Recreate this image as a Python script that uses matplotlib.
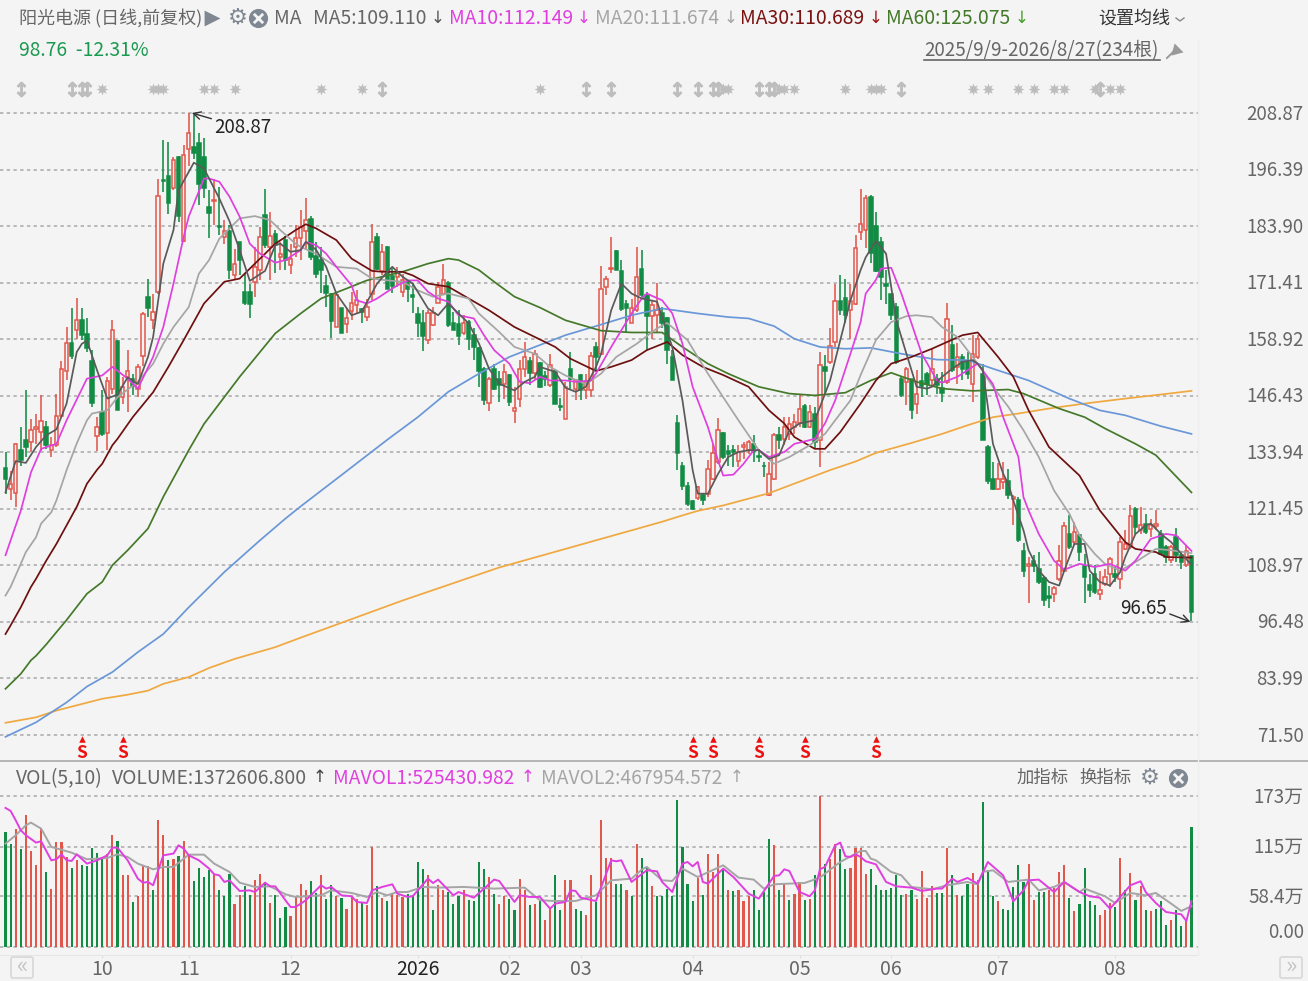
import matplotlib
matplotlib.use('Agg')
import matplotlib.pyplot as plt
from matplotlib.patches import FancyBboxPatch
from matplotlib.transforms import ScaledTranslation

plt.rcParams['font.family'] = ['Noto Sans CJK SC', 'DejaVu Sans']

# 日K数据
opens = [130.5,125.9,124.9,134.4,136.6,136.2,139.1,138.4,139.5,134.5,135.5,142,152,158.1,160.9,163.1,160,154.1,137.5,142.8,
138.2,148,158.5,146.1,150.6,150.2,148,155.1,168.2,163.2,169.4,194,194.9,192.2,199.2,180.6,201,201.3,202.2,199.2,
188,189.4,183.9,181.5,182.8,173,180.3,169.4,169.4,171.6,174.3,186.3,179.2,182.1,177.1,180.9,175.3,179.3,181.2,182.9,
185.4,177.3,176.4,170.6,169,161.6,165.8,162.2,165.1,166.4,165.5,163.8,169,181.5,174,179.3,172.8,172.7,169.4,171.4,
168.6,164.4,162.4,158.8,162,166.9,168.9,171.4,162.4,162.2,160.2,162.7,159.8,157,152.4,144.8,152.4,150.2,149,150.9,
143.1,145.8,152.4,154.1,151.5,153.7,150.7,148.7,152,144.2,141.4,152.4,148,150.9,147.8,147.8,157.2,155.7,170.5,174.4,
178.4,174,166.6,162.5,165.3,174.4,168.6,164,164.2,164.6,163.7,155,140.3,131,126.6,123.1,123.8,124.4,124.8,128.1,
131.8,138.3,134.2,134.4,132,135.2,134.5,135.8,133.2,131,124.4,128.1,137.8,136.9,137.9,139.5,140.4,144.2,139.5,142.5,
136.6,152.8,153.9,158.3,167.4,168.1,165.3,166.6,182.5,183,190.4,183.9,180.4,171.1,168.9,166,150.1,149.5,150.1,144.6,
149.6,151.3,149.8,150.2,148.2,149.5,157.6,152.8,155,154,149.1,155,151.3,135.2,128.1,125.9,127.4,127.7,123.6,123.3,
112.1,108.9,110,108.2,106.2,102.1,102.7,106,107.8,115.9,114.1,115.6,108.9,104.7,107.1,102.7,104.9,107.1,107.1,106,
112.6,113,121.5,116.7,118.1,117,117.7,115.9,113,110.1,115.2,111.2,109,111]
highs = [134,129.9,135.9,139.5,147.8,141.4,142.5,146.5,140.8,137.3,146.9,154.2,161.5,165.8,168.1,165.8,163.5,156.5,141.7,147.6,
150.6,163.1,158.8,150.6,156.5,151.3,153.5,164.9,172.1,169,194.2,202.9,202.5,199.2,199.4,201.8,208.87,208.5,204.4,203.3,
191.8,194.4,192.6,185.2,184.1,178.9,180.4,173.4,171.2,179.3,183.7,192,187,183,180.4,181.7,180,184.1,187.4,190,
186.1,180.4,179.3,173,169.2,169,165.9,165.7,169.4,169.7,165.9,167.9,184.3,182.3,180,179.5,174.9,174.9,173.4,172,
171.4,166,165.3,165.3,166,171.6,175.6,171.7,165,165.3,164.2,163.1,161.3,157.2,152.8,150.6,153.5,152,153.5,151.3,
148.4,154.4,158.4,155,156.6,153.9,152,155.6,152.4,146,149.5,156.1,150.2,151.2,151.3,156.1,158.3,175,172.8,181.4,
178.6,176.4,167.5,167.9,179.3,178.6,169.4,167.5,171.4,166,163.9,156.5,142.1,131.8,127.4,123.5,126.6,124.9,132.2,135.8,
141.6,138.4,135.5,135.5,135.6,136.2,136.6,137.8,134.7,131.8,131.8,138.1,139.5,141.7,141.7,142.5,146.5,144.5,144.3,143.9,
156.1,155.4,161.4,171.2,173.1,172.1,171.2,181.9,192,190.7,190.7,187,181.5,174.2,169,166.8,150.6,152.8,150.2,152.1,
155.7,151.7,156.8,151.3,151.7,167,162,158,155.7,156,159.8,159.8,153.5,135.5,131.8,131.6,131.8,130.3,124.4,124,
113.9,110.8,111.2,111.9,106.7,104.5,104.5,113.4,118.5,120,118.5,115.9,111.5,107.1,109,107.8,108.2,110.9,108.6,115.2,
116.7,122.2,121.8,121.8,120.4,119.3,121.2,116.7,113.4,113.4,117.3,112.2,113.4,111.2]
lows = [124.8,123.4,121.8,130.8,132.9,134,135.8,134.3,134.7,132.9,135.1,141.7,150,154.6,159,158.7,156,143.9,134.3,137.5,
134.5,146.9,143.2,144.7,142.8,146.5,146.1,153.1,163.8,161.2,169,191.5,186.5,191.8,184.8,180.4,197.1,198.8,188.5,190,
181.2,184.1,181.9,180,172.3,171.9,173,166.4,163.7,168.2,172,179,172,173.5,174.1,174.3,173.3,177.1,176.4,178.6,
176.4,172.5,169.2,166,159.2,161.6,160.2,160.2,163.1,164.7,162.6,162.9,167.5,174.2,173,170.1,169.2,170.5,168.3,167.2,
164.6,159.3,156.3,157.9,161.8,166.8,168.6,161.6,160.9,157.6,159.8,156.5,154.4,148.4,144.3,143,147.6,145,145.8,144.1,
140.4,144,150.6,148.7,149.8,148.2,148.5,148.4,144.5,143,141.2,147.8,145.4,145.4,145.8,146.1,152,155.4,168.6,173.6,
174.2,165.2,160.5,162.5,164.9,168.3,156.5,159,160.5,161.3,153.5,149.8,130.1,125.5,122,121.1,123.3,122.2,124,127.9,
131.4,132.5,131,130.7,130.7,132.5,133.6,131.8,131.8,128.5,124.2,127.9,134.7,135.5,136.6,138,139.5,139.4,139.4,134.7,
130.7,146.9,153.5,157.2,164.2,162.4,159,166.4,180.8,179,175.8,173.8,167.5,166.6,163.1,153.5,146.2,144.3,141.2,142.5,
146.2,146.5,148.7,146.9,145,149.1,151.7,149.1,149.8,150.2,145,154.6,136.6,127,125.5,125.7,125.9,123.7,117.8,114.1,
106.5,100.6,107.5,104.9,99.9,99.5,100.8,105.6,107.5,112.6,113.4,110,100.6,102,102.7,101.3,104.5,104.2,105.3,103.8,
112.3,112.6,115.9,116,115.9,115.2,116.8,111.2,109.4,109.4,109.7,108.2,108.6,96.65]
closes = [128.1,127,135.8,132.3,135.1,138.8,139.5,140.8,135.5,135.5,141.9,152.4,158.1,155.1,163.1,159.8,157,144.8,139.5,138,
149.7,161,143.3,148.3,152,148.5,152.8,164.4,165.9,164.9,190.5,193.8,188.9,198.6,186.1,199.6,204.5,200.1,193.2,192.2,
186.8,189.6,183.8,182.8,174.3,175.6,176.5,167,166.6,174.9,181.5,179.7,181.7,179.7,177.8,176.4,176.7,181.2,183.7,185.2,
177.1,173.3,174.2,169.2,162.9,168.6,160.3,163.5,166.8,167.5,164.9,166,180.3,174.5,178.2,170.1,170.6,173.8,172,169.9,
168.3,162.5,159.6,164.6,164.6,170.5,171.9,162,161,159.6,162.5,159,157.2,152,145.4,150.2,148,148.9,151.7,145,
143.8,152.4,154.9,151.5,155.7,148.4,150.2,153.2,144.7,143.9,148.4,150.2,149.8,147.6,149.5,155.2,155,170.1,172.3,174.5,
174.3,165.5,165.7,165.7,172.7,168.6,164,166.4,165.3,162.5,156.5,150,133.8,126.6,122.6,121.5,126.3,123.3,130.3,133.8,
138.8,132.9,133.5,134,134,135.6,136.2,134.2,132.9,130.8,129.2,137.7,136.7,139.5,140.1,140.6,143.4,139.5,142.8,136.2,
153.2,152,157.4,167.4,165.3,164.2,167.4,179,184.3,190.2,178,174,172.7,170.6,164.2,153.9,146.7,152.4,143.2,146.9,
148.5,149.1,152.4,148.7,147,163.3,152.1,155,152.4,151.3,155.7,159,136.7,127.7,125.9,128.1,128.1,124.4,124,114.5,
107.8,109.3,108.9,105.3,101.4,101.8,104,110,117.6,113,116.3,111.9,106.4,103.6,103,103.6,106.4,110.4,106.4,114.1,
113.7,119.8,117.4,117.8,116.3,117.9,118.1,111.5,110.8,113,111.2,109.7,112.2,98.76]

# 均线, 按K线序号读的点
ma5_i = [0,2,4,6,8,10,12,14,15,16,18,20,22,24,26,28,29,31,33,34,37,39,42,44,46,48,51,53,54,56,58,59,61,63,65,68,70,73,75,76,78,80,83,85,87,89,91,93,95,97,100,102,104,105,108,110,112,114,116,117,119,121,123,125,128,129,131,133,135,136,138,140,142,144,146,148,150,152,154,156,159,160,162,164,166,168,169,171,173,174,175,177,179,181,182,184,186,188,190,191,192,193,194,196,197,198,200,201,203,205,207,208,210,212,213,215,217,219,220,222,224,225,227,229,231,233]
ma5_v = [125.1,132,131.6,135.1,137.7,139,144.7,156.1,157.9,158.6,152,145.8,146.7,150.5,149,155,159.4,175.6,183,191.8,197.9,196.6,190,185,178.6,171.8,174,179.7,180,178.2,178.6,180.4,178.7,174.9,169,164.2,165,171.2,173.8,174.9,172.7,171.2,165.7,164.2,166.8,164.6,162.4,158,152.4,149.1,147.6,149.5,150.6,152.8,151.7,148.2,147.3,148.4,152.8,155.7,165.3,171.2,169,167.9,167.2,163.8,157.2,145.4,130,124.8,124.8,129.2,132.9,134,134.4,134.4,132.5,133.3,138.8,140.3,141,143.9,149.8,158.7,167.5,174.2,177,180.6,177.8,170.5,163.1,155.7,148.4,148,148.4,150.6,152.4,153.9,154.3,153.5,152.1,144,135.8,129.2,127,123.3,116.7,112.3,107.8,105.3,104.5,107.8,113.7,113.7,107.8,105.3,104.5,107.5,110.8,115.9,117.8,118.2,115.9,114.1,111.5,109.11]
ma10_i = [0,3,5,7,10,12,16,19,21,24,26,29,31,33,35,36,39,40,42,44,46,48,50,53,55,58,59,61,63,65,68,69,71,73,75,77,79,81,83,85,87,89,92,94,96,99,101,103,105,107,110,112,115,116,119,121,123,125,126,129,131,133,135,138,140,141,143,145,147,148,150,153,155,159,161,163,166,168,169,171,172,174,176,178,180,183,184,187,190,191,194,196,199,200,201,203,206,208,211,214,217,220,222,225,228,230,233]
ma10_v = [111.2,121,129.5,134.7,135.8,141,150.2,150.9,152.8,150.2,148,155,161.6,171.2,181.5,186,194.4,194.4,193.7,190.4,186,180,177.8,175.8,176.4,178.6,180.4,179.7,177.8,174.9,170.8,167.5,166.8,167.9,169.4,170.8,171.9,171.9,169.4,167.9,167.2,164.2,163.5,159.8,156.5,153.5,149.5,149.2,150.6,149.8,149.8,149.5,149.8,151.3,157.2,160.9,164.6,167.9,169,167.5,164.6,157.9,148.4,139.5,132.1,128.8,129,131.4,134.4,134.4,132.9,134,135.8,136.9,140.3,145.4,155.7,162.7,169,172,174.5,174.7,169,162.4,155.7,149.8,149.3,150.6,152.8,153.5,149,141.7,132.9,124,121.1,115.9,110,108,109.3,108.6,109.3,107.8,110,114.8,115.9,115.6,112.15]
ma20_i = [0,1,3,4,6,7,9,10,12,14,16,17,20,22,26,29,31,33,36,38,40,42,46,49,52,54,57,58,61,65,69,72,75,78,81,84,87,91,93,97,100,104,107,110,114,117,120,124,128,130,134,138,141,144,148,151,154,158,161,163,166,168,171,174,177,179,182,184,187,190,191,194,197,200,203,206,209,211,214,216,219,222,226,229,233]
ma20_v = [102.3,104.2,109.3,111.9,115.2,118.2,120.7,123.3,130,135.9,141,142.5,143.2,146.1,149.5,153.5,157.9,161.6,166,173.4,176.4,181.1,185.6,186.1,185.2,183,180,179.3,177.8,174.9,174.5,172.3,171.9,171.6,169.7,168.3,169,167.9,164.6,160.5,157.2,155.7,152.8,150.9,149,151.3,155,157.9,161.3,162.5,158.7,151.3,146.1,141,134.4,131.4,132.9,135.5,138,141,145.4,151,158.7,162.7,164,164.2,163.8,161.6,159.4,155,153.5,148.4,144,138.8,132.9,125.5,120.4,115.6,111.5,109.3,107.8,109.7,112.6,112.3,111.67]
ma30_i = [0,1,3,5,6,8,10,12,14,16,18,19,21,22,25,29,32,35,39,43,46,49,53,57,59,61,65,68,72,74,78,80,83,87,91,95,100,104,108,111,116,119,123,126,130,133,137,141,146,150,153,155,159,161,164,168,171,174,178,182,185,188,191,195,198,201,205,211,215,220,222,226,228,233]
ma30_v = [93.8,95.7,99.7,104.2,106,110,113.7,117.8,121.9,127,130.1,131.4,135.5,136.9,141.7,147.2,152.8,158.7,166.8,171.6,172.3,175.6,180,183,184.3,183.4,180.8,176.7,174,173.8,173.8,173,171.2,170.5,167.9,165.3,161.6,159.4,157.2,154.6,151.9,152.8,154.3,156.5,158.3,155.4,152.8,151,148.4,143.2,140.3,137.3,134.7,134.7,138.4,144.7,149.8,153.5,155,156.8,158.3,159.8,160.4,155,150.6,143.2,135.1,128.8,121.1,114.1,112.6,111.9,110.8,110.69]
ma60_i = [0,3,5,6,8,12,16,19,21,24,28,31,36,39,46,53,58,62,67,71,78,83,87,89,93,96,100,105,110,117,123,129,133,138,142,148,154,159,165,170,174,179,184,190,197,200,207,212,216,222,226,233]
ma60_v = [81.7,85,88,89,91.5,96.9,102.7,105.3,109,112.3,117.1,124.1,134.4,140.2,150.6,160.2,164.6,167.9,170.1,171.9,173.8,175.6,176.7,176.4,174.2,171.6,168.3,165.9,163.1,160.8,160.4,160.4,157.2,153.5,151.3,148.4,146.9,146.5,147.1,149.8,151.5,149.5,148,147.5,147.8,146.9,143.6,141.7,139.2,135.8,133.3,125.08]
ma120_i = [0,6,12,16,21,26,31,36,43,50,55,58,66,75,81,87,93,99,104,110,116,123,129,136,142,146,151,155,160,165,170,176,183,189,194,201,209,215,220,227,233]
ma120_v = [71.1,74.3,78.7,82.2,85.4,89.8,93.8,99.7,107.5,114.5,119.3,122,128.9,136.7,141.7,147.3,151.3,155,157.2,159.8,161.8,164.2,165.7,164.6,163.8,163.5,161.8,159,157.2,156.8,157,155.7,154.4,154.3,152.4,149.8,145.8,143.2,142.1,139.7,138]
ma250_i = [0,6,10,19,24,28,31,36,40,45,53,58,78,97,123,129,133,136,141,150,158,162,167,171,178,184,189,194,199,205,212,220,227,233]
ma250_v = [74.2,75.4,76.9,79.5,80.4,81.3,82.8,84.3,86.3,88.3,90.9,93,101.2,108.5,116.7,118.6,120,121,122.2,124.9,128.3,130,131.9,133.8,136,138,139.9,141.7,142.5,143.6,144.7,145.8,146.7,147.5]

# 成交量(万手)
volume = [131.8,118.4,134.8,112.7,150.9,110,93.6,136.4,86,66.1,120.3,120.3,103.1,90.5,99.3,93.6,92.8,113.5,107.7,101.2,
106.2,128,121.5,82.1,82.1,51.2,58.1,93.6,92.8,64.9,145.2,128,99.3,100.5,103.9,121.1,105.8,75.3,90.5,80.2,
87.9,84,64.9,58.1,83.3,48.9,59.2,69.5,59.2,76.4,83.3,74.5,50.8,59.2,33.6,45.8,35.1,58.1,71.8,64.9,
75.3,61.9,82.1,55.4,71.4,58.1,56.2,43.9,58.1,55.4,51.6,47.8,114.6,69.5,56.5,52.3,62.3,60,57.3,61.1,
59.2,97.4,89,82.1,42,71.4,64.9,63,48.9,58.1,65.7,54.2,52.3,97.4,89,80.2,61.1,48.9,58.1,55.4,
42,78.3,64.9,47.8,48.9,52.3,30.6,43.9,82.1,42,76.4,76.4,43.9,40.9,37.1,82.1,51.6,145.2,102.4,102.4,
72.6,72.6,64.9,58.1,117.7,102.4,90.5,69.5,58.1,58.1,66.9,58.1,168.1,114.6,71.8,52.3,79.5,59.2,106.2,86,
106.2,89.8,64.9,64.2,65.7,52.3,58.1,64.9,42,63,124.2,116.5,64.9,71.8,54.2,61.1,74.5,54.2,55.4,82.1,
172.7,95.5,101.2,117.7,112.7,89,90.5,113.8,113.8,83.3,89,71.4,64.9,64.9,68,82.1,59.2,61.1,64.9,54.6,
86.7,56.2,69.5,61.9,61.9,113.8,82.1,59.2,58.1,71.8,85.2,76.4,166.2,88.6,58.1,52.3,43.9,42,68.8,93.6,
74.5,95.5,54.2,63,63,65.7,67.6,86,93.6,56.2,40.9,48.9,90.5,52.3,47.8,37.1,42,50.4,45.8,102.4,
64.9,85.2,54.2,69.5,42,40.9,43.9,52.3,24.8,30.6,42,23.7,30.6,137.26]
vol_dir = ('GGRGRRRRGRRRRGRGGGGG' 'RRGRRGRRRGRRGRGRRGGG' 'GRGGGRRGGRRGRGGGRRRR' 'GGRGGRGRRRGRRGRGRRRG'
           'GGGRGRRGGGRGGGGRGRRG' 'GRRGRGRRGGRRGGRRGRRR' 'GGRGRGGRGGGGGGGGRGRR' 'RGRGRRRGGGGRGRGRRGRG'
           'RGRRGGRRRRGGGGGGGRGR' 'RRRGGRGRGGRRGGGRGGGG' 'GRRGGRRRRGRGGGGRRRGR' 'GRGRGRGGGRGGRG')
mavol1_i = [0,1,2,3,4,6,7,9,10,11,12,13,14,16,18,20,21,22,24,26,27,28,29,31,33,34,35,36,38,40,41,42,43,44,46,48,49,51,52,53,55,56,57,59,62,63,64,66,68,69,71,72,74,76,77,79,80,83,84,85,88,89,92,94,96,97,100,101,103,105,107,108,110,111,112,113,116,119,120,121,123,126,128,129,131,133,134,135,136,137,138,141,143,146,148,151,152,153,154,156,158,159,160,161,163,164,165,166,167,168,169,171,173,175,178,180,183,184,186,187,189,191,193,196,198,200,201,203,206,208,211,213,215,217,219,221,223,224,226,228,231,232,233]
mavol1_v = [159.3,155.9,145.2,133.7,128,119.6,121.1,99.3,100.5,106.2,99.3,98.6,106.2,95.5,99.3,105,113.8,113.8,99.3,78.3,73.7,74.5,70.7,105,107,116.5,112.7,105,99.3,89.8,83.3,82.1,74.5,76.4,64.2,64.9,63,73.7,69.5,69.5,53.5,45.8,45.8,53.5,70.7,66.9,68.8,59.2,58.1,51.6,50.4,64.9,68.8,71.8,61.1,57.3,58.1,78.3,73.3,77.2,59.2,63,56.5,66.9,77.2,75.6,51.6,59.2,57.3,57.3,43.9,49.7,51.6,64.9,64.2,56.5,52.7,99.3,98.2,99.3,74.5,87.9,86.7,74.5,63,95.5,97.4,92.4,97.4,74.5,72.6,89.8,80.2,61.1,55.4,81.4,82.1,89,87.1,63,58.1,64.9,89,91.7,116.5,119.6,103.9,103.1,106.2,103.1,98.2,94.7,74.5,69.5,68,64.2,66.9,66.9,78.3,74.5,79.1,72.6,97.4,82.1,52.3,64.9,76.4,77.2,63,74.5,63,58.1,56.5,43.9,57.3,70.7,75.3,63,50.4,40.1,37.4,29.8,52.54]
mavol2_i = [0,2,4,5,7,9,13,16,20,22,24,26,29,31,33,36,39,41,44,46,49,52,55,57,62,64,68,71,73,75,77,79,82,85,90,96,102,105,108,112,116,119,123,125,126,129,131,133,136,141,144,147,149,151,154,157,160,164,168,169,170,171,174,176,178,182,185,189,191,192,194,197,201,203,206,208,211,212,216,218,221,224,226,229,231,233]
mavol2_v = [118.4,128,139.4,142.5,135.6,114.6,108.1,100.5,102,106.2,103.1,95.5,89,91.7,91.7,105.8,105.8,95.5,86,73.7,68.8,69.5,60.4,57.3,59.2,64.9,61.9,57.3,63,59.2,63,63,68.8,68,68.8,66.9,68,53.5,52.7,52.7,59.2,76.4,78.3,88.6,91.7,76.4,75.6,89.8,80.2,93.6,79.5,77.2,66.9,71.8,72.6,73.3,79.5,97.4,110,110,101.2,99.3,86,82.1,68.8,66.1,70.7,74.5,71.8,86,87.9,74.5,77.2,64.9,68.8,74.5,63,66.9,58.1,50.4,61.9,59.2,61.9,49.7,41.3,46.8]

price_ticks = [208.87,196.39,183.90,171.41,158.92,146.43,133.94,121.45,108.97,96.48,83.99,71.50]
vol_ticks = [173,115,58.4,0]
vol_tick_labels = ['173万','115万','58.4万','']
month_i = [19,36,56,81,99,113,135,156,174,195,218]
month_labels = ['10','11','12','2026','02','03','04','05','06','07','08']
arrow_events = [3,13,15,16,74,114,119,132,136,139,140,148,150,151,176,215]
star_events = [19,29,30,31,39,41,45,62,70,105,141,142,152,153,155,165,170,171,172,190,193,199,202,206,208,214,217,219]
sell_events = [15,23,135,139,148,157,171]

W, H = 1308, 981
BG = '#f4f4f4'
RED = '#e2574c'
GREEN = '#128c44'
GRID = '#a8a8a8'
TXT = '#666666'

fig = plt.figure(figsize=(W/100, H/100), dpi=100, facecolor=BG)

def px_axes(x0, y0, x1, y1):
    return fig.add_axes([x0/W, 1-y1/H, (x1-x0)/W, (y1-y0)/H], facecolor='none')

ax = px_axes(0, 60, 1198, 760)
av = px_axes(0, 762, 1198, 955)
xlim = (-5.5/5.09, (1198-5.5)/5.09)
lift = ScaledTranslation(0, 1.5/100, fig.dpi_scale_trans)

# K线
idx = list(range(len(closes)))
up = [c >= o for o, c in zip(opens, closes)]
wick_col = [RED if u else GREEN for u in up]
ax.vlines(idx, lows, highs, colors=wick_col, lw=1.15, zorder=2)
bottoms = [min(o, c) for o, c in zip(opens, closes)]
heights = [max(abs(c-o), 0.15) for o, c in zip(opens, closes)]
ax.bar(idx, heights, bottom=bottoms, width=0.68, color=[BG if u else GREEN for u in up],
       edgecolor=wick_col, linewidth=1.1, zorder=3)

for xs, ys, col in [(ma250_i, ma250_v, '#f0a840'), (ma120_i, ma120_v, '#6a97d8'), (ma60_i, ma60_v, '#45792a'),
                    (ma30_i, ma30_v, '#6e1010'), (ma20_i, ma20_v, '#a5a5a5'), (ma10_i, ma10_v, '#e03fe0'),
                    (ma5_i, ma5_v, '#5a5a5a')]:
    ax.plot(xs, ys, color=col, lw=1.25, zorder=4)

ax.set_xlim(*xlim)
ax.set_ylim(208.87-(760-113)*0.22085, 208.87+(113-60)*0.22085)
ax.set_yticks(price_ticks)
ax.set_yticklabels(['%.2f' % p for p in price_ticks])
ax.yaxis.tick_right()
ax.tick_params(axis='y', length=0, pad=76, labelsize=13.5, labelcolor=TXT)
for lab in ax.get_yticklabels():
    lab.set_ha('right')
    lab.set_transform(lab.get_transform() + lift)
ax.set_xticks([])
ax.grid(axis='y', color=GRID, lw=1.1, ls=(0, (2.2, 2.2)), zorder=1)
ax.set_axisbelow(True)
for s in ax.spines.values():
    s.set_visible(False)

# 事件标记和卖点
ax.scatter(star_events, [214.2]*len(star_events), marker=(8, 1, 0), s=75, color='#bdbdbd', lw=0, zorder=5, clip_on=False)
ax.scatter(arrow_events, [214.2]*len(arrow_events), marker='$\\updownarrow$', s=110, color='#bdbdbd', lw=0.8, zorder=5, clip_on=False)
ax.scatter(sell_events, [70.7]*len(sell_events), marker='^', s=22, color='#ee1111', lw=0, zorder=5)
for e in sell_events:
    ax.text(e, 67.5, 'S', color='#ee1111', fontsize=12.5, fontweight='bold', ha='center', va='center', zorder=5)

# 最高最低价
ax.annotate('208.87', xy=(36.6, 208.87), xytext=(41, 205.6), fontsize=13.5, color='#222222', va='center',
            arrowprops=dict(arrowstyle='->', color='#333333', lw=1, shrinkA=0, shrinkB=0))
ax.annotate('96.65', xy=(232.8, 96.48), xytext=(219, 99.4), fontsize=13.5, color='#222222', va='center',
            arrowprops=dict(arrowstyle='->', color='#333333', lw=1, shrinkA=0, shrinkB=0, relpos=(1, 0.3)))

# 成交量
vol_col = [RED if d == 'R' else GREEN for d in vol_dir]
av.bar(idx, volume, width=0.42, color=vol_col, lw=0, zorder=3)
av.plot(mavol2_i, mavol2_v, color='#a5a5a5', lw=1.4, zorder=4)
av.plot(mavol1_i, mavol1_v, color='#e03fe0', lw=1.4, zorder=5)
av.set_xlim(*xlim)
av.set_ylim((947-955)/0.873, (947-762)/0.873)
av.set_yticks(vol_ticks)
av.set_yticklabels(vol_tick_labels)
av.yaxis.tick_right()
av.tick_params(axis='y', length=0, pad=76, labelsize=13.5, labelcolor=TXT)
for lab in av.get_yticklabels():
    lab.set_ha('right')
    lab.set_transform(lab.get_transform() + lift)
av.set_xticks(month_i)
av.set_xticklabels(month_labels)
av.tick_params(axis='x', length=2, color='#dddddd', pad=1, labelsize=14, labelcolor=TXT)
av.get_xticklabels()[3].set_color('#222222')
av.grid(axis='y', color=GRID, lw=1.1, ls=(0, (2.2, 2.2)), zorder=1)
av.set_axisbelow(True)
for s in ['top', 'left', 'right']:
    av.spines[s].set_visible(False)
av.spines['bottom'].set_color('#e6e6e6')

# 顶部和底部的文字, 图标
ui = fig.add_axes([0, 0, 1, 1], facecolor='none')
ui.set_xlim(0, W)
ui.set_ylim(H, 0)
ui.axis('off')

def label(x, y, s, color=TXT, size=13.9, ha='left'):
    ui.text(x, y, s, color=color, fontsize=size, ha=ha, va='center')

def arrow(x, y, s, color):
    ui.text(x, y, s, color=color, fontsize=12, ha='center', va='center', family='DejaVu Sans')

def close_icon(x, y):
    ui.scatter([x], [y], s=190, color='#7f8793', lw=0)
    ui.scatter([x], [y], s=45, marker='x', color=BG, lw=2)

def gear_icon(x, y):
    ui.text(x, y, '⚙', color='#7f8793', fontsize=16, ha='center', va='center', family='DejaVu Sans')

label(19, 19, '阳光电源 (日线,前复权)', size=13)
ui.scatter([212], [18], marker='>', s=130, color='#7f8793', lw=0)
gear_icon(238, 18)
close_icon(258, 18)
label(274, 19, 'MA')
label(313, 19, 'MA5:109.110')
arrow(438, 18, '↓', '#555555')
label(449, 19, 'MA10:112.149', '#e03fe0')
arrow(584, 18, '↓', '#e03fe0')
label(595, 19, 'MA20:111.674', '#a5a5a5')
arrow(731, 18, '↓', '#a5a5a5')
label(740, 19, 'MA30:110.689', '#7a1212')
arrow(876, 18, '↓', '#a01515')
label(886, 19, 'MA60:125.075', '#45792a')
arrow(1022, 18, '↓', '#45a02a')
label(1098, 19, '设置均线', '#333333', 13)
ui.plot([1176, 1180, 1184], [18, 21, 18], color='#888888', lw=1)
label(19, 51, '98.76  -12.31%', '#1a9a50')
label(924, 51, '2025/9/9-2026/8/27(234根)', '#666666', 13.5)
ui.plot([924, 1160], [60, 60], color='#666666', lw=1.2)
ui.scatter([1176], [50], marker=(3, 0, 135), s=110, color='#9a9a9a', lw=0)
ui.plot([1167, 1175], [58, 50], color='#9a9a9a', lw=1.4)

ui.plot([0, W], [761, 761], color='#aaaaaa', lw=1.2)
ui.plot([1198, 1198], [40, 955], color='#eeeeee', lw=1)

label(16, 779, 'VOL(5,10)')
label(112, 779, 'VOLUME:1372606.800')
arrow(320, 777, '↑', '#444444')
label(333, 779, 'MAVOL1:525430.982', '#e03fe0')
arrow(528, 777, '↑', '#e03fe0')
label(541, 779, 'MAVOL2:467954.572', '#a5a5a5')
arrow(737, 777, '↑', '#a5a5a5')
label(1017, 778, '加指标', size=12.5)
label(1079, 778, '换指标', size=12.5)
gear_icon(1150, 778)
close_icon(1178, 778)
label(1304, 932, '0.00', ha='right', size=13.5)

for x, s in [(22, '«'), (1291, '»')]:
    ui.add_patch(FancyBboxPatch((x-9, 959), 18, 17, boxstyle='round,pad=2', fc='#f4f4f4', ec='#d9d9d9', lw=1.3))
    ui.text(x, 966, s, color='#c4c4c4', fontsize=17, ha='center', va='center')

fig.savefig('out.png', dpi=100, facecolor=BG)
